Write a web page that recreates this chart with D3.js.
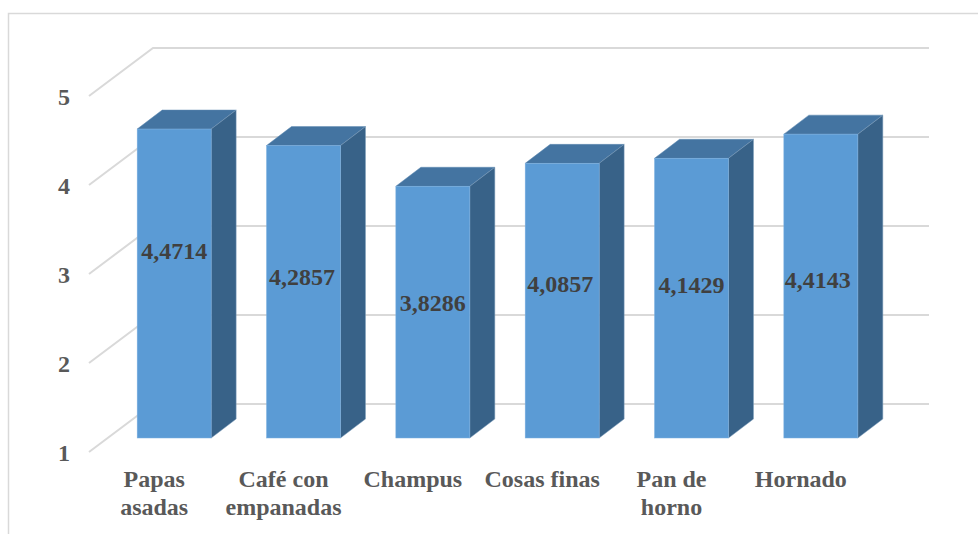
<!DOCTYPE html>
<html>
<head>
<meta charset="utf-8">
<script src="https://d3js.org/d3.v7.min.js"></script>
<style>
html, body { margin: 0; padding: 0; background: #fff; }
svg { display: block; }
text { font-family: "Liberation Serif", serif; font-weight: bold; }
</style>
</head>
<body>
<script>
var categories = [["Papas", "asadas"], ["Café con", "empanadas"], ["Champus"], ["Cosas finas"], ["Pan de", "horno"], ["Hornado"]];
var values = [4.4714, 4.2857, 3.8286, 4.0857, 4.1429, 4.4143];
var valueLabels = ["4,4714", "4,2857", "3,8286", "4,0857", "4,1429", "4,4143"];
var yTicks = [1, 2, 3, 4, 5];
// labels were dragged by hand in the original, shift from the bar middle
var labelShiftX = [0, -1.5, 0, -2, 0, -3];
var labelShiftY = [-25, -7, -1, -9, -5, 2];

var width = 978, height = 534;

var svg = d3.select("body").append("svg")
    .attr("width", width)
    .attr("height", height);

// chart frame, runs off the picture on the right and bottom
svg.append("path")
    .attr("d", "M8.5,540V13.5H985")
    .attr("fill", "none")
    .attr("stroke", "#d9d9d9")
    .attr("stroke-width", 1.5);

// 3d offsets
var wallDx = 64, wallDy = -48, depthDx = 25, depthDy = -19;

var y = d3.scaleLinear().domain([1, 5]).range([452, 96]);

var x = d3.scaleBand()
    .domain(d3.range(categories.length))
    .range([109.5, 885.5])
    .paddingInner(0.428)
    .paddingOuter(0.214);

var barY = function (v) { return y(v) - 14; };

// gridlines on side and back wall
svg.append("g").selectAll("path")
    .data(yTicks)
    .enter().append("path")
    .attr("d", function (d) {
        return "M89," + y(d) + "L" + (89 + wallDx) + "," + (y(d) + wallDy) + "H929";
    })
    .attr("fill", "none")
    .attr("stroke", "#d9d9d9")
    .attr("stroke-width", 2);

var yAxis = d3.axisLeft(y)
    .tickValues(yTicks)
    .tickFormat(d3.format("d"))
    .tickSize(0)
    .tickPadding(0);

var axisG = svg.append("g")
    .attr("transform", "translate(70,1)")
    .call(yAxis);
axisG.select(".domain").remove();
axisG.selectAll("text")
    .attr("font-family", null)
    .attr("font-size", 24)
    .attr("fill", "#595959");

var bars = svg.append("g").selectAll("g")
    .data(values)
    .enter().append("g");

// top
bars.append("path")
    .attr("d", function (d, i) {
        var x0 = x(i), w = x.bandwidth(), t = barY(d);
        return "M" + x0 + "," + t + "l" + depthDx + "," + depthDy + "h" + w + "l" + (-depthDx) + "," + (-depthDy) + "Z";
    })
    .attr("fill", "#4474a1")
    .attr("stroke", "#5f8ab3")
    .attr("stroke-width", 0.5);

// side
bars.append("path")
    .attr("d", function (d, i) {
        var x1 = x(i) + x.bandwidth(), t = barY(d), b = barY(1);
        return "M" + x1 + "," + t + "l" + depthDx + "," + depthDy + "V" + (b + depthDy) + "L" + x1 + "," + b + "Z";
    })
    .attr("fill", "#386288")
    .attr("stroke", "#7f9fbd")
    .attr("stroke-width", 0.5);

// front
bars.append("rect")
    .attr("x", function (d, i) { return x(i); })
    .attr("y", function (d) { return barY(d); })
    .attr("width", x.bandwidth())
    .attr("height", function (d) { return barY(1) - barY(d); })
    .attr("fill", "#5b9bd5")
    .attr("stroke", "#7db0e0")
    .attr("stroke-width", 0.5);

// value labels
bars.append("text")
    .attr("x", function (d, i) { return x(i) + x.bandwidth() / 2 + labelShiftX[i]; })
    .attr("y", function (d, i) { return (barY(d) + barY(1)) / 2 + labelShiftY[i]; })
    .attr("text-anchor", "middle")
    .attr("font-size", 24)
    .attr("fill", "#404040")
    .text(function (d, i) { return valueLabels[i]; });

// category labels, one text line per row
var catG = svg.append("g").selectAll("text")
    .data(categories)
    .enter().append("text")
    .attr("text-anchor", "middle")
    .attr("font-size", 24)
    .attr("fill", "#595959");

catG.selectAll("tspan")
    .data(function (d, i) { return d.map(function (s) { return { s: s, i: i }; }); })
    .enter().append("tspan")
    .attr("x", function (d) { return x(d.i) + x.bandwidth() / 2 - 20; })
    .attr("y", function (d, j) { return 487 + j * 28; })
    .text(function (d) { return d.s; });
</script>
</body>
</html>
